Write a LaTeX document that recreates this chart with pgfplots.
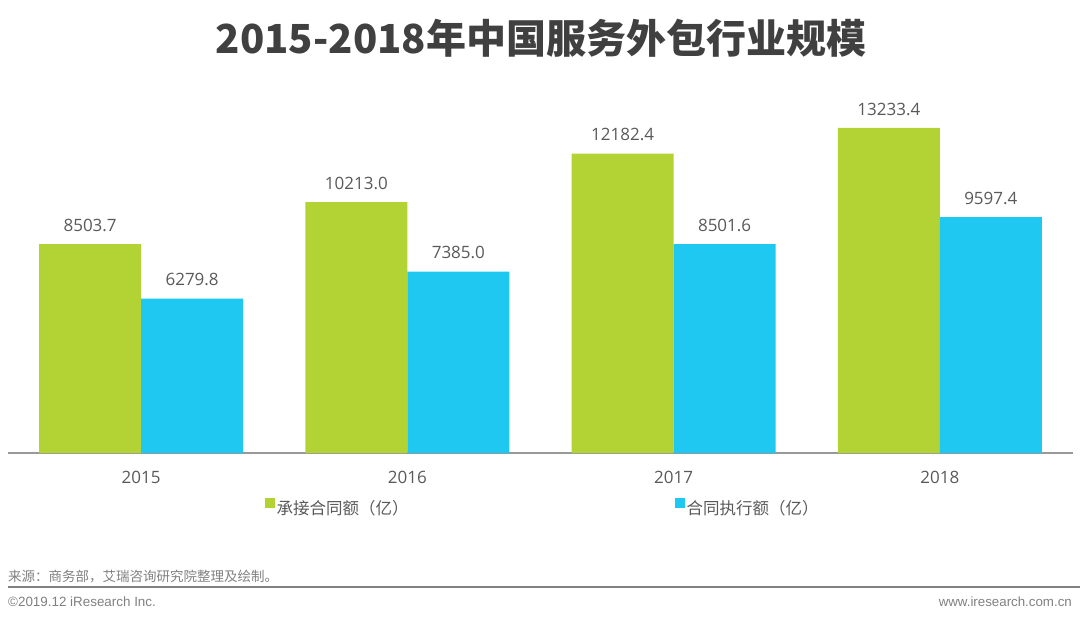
\documentclass[border=0pt]{standalone}
\usepackage{pgfplots}
\pgfplotsset{compat=1.18}
\usepackage{fontspec}
\setmainfont{Open Sans}
\newfontfamily\cjk{Noto Sans CJK SC}
\newfontfamily\arial{Liberation Sans}
\definecolor{barGreen}{HTML}{B3D334}
\definecolor{barCyan}{HTML}{1EC8F0}
\definecolor{txtGray}{HTML}{595959}
\definecolor{titleGray}{HTML}{404040}
\definecolor{footGray}{HTML}{808080}
\begin{document}
\begin{tikzpicture}
\path[use as bounding box] (0,0) rectangle (1080pt,622pt);
% title
\node[font=\cjk\bfseries\fontsize{40}{40}\selectfont, text=titleGray] at (541pt,584pt) {2015-2018年中国服务外包行业规模};
\begin{axis}[
    at={(8pt,169pt)}, anchor=south west,
    scale only axis, width=1065pt, height=353.8pt,
    xmin=-0.5, xmax=3.5, ymin=0, ymax=14400,
    ybar=0pt, bar width=102pt,
    axis x line*=bottom, axis y line=none,
    x axis line style={draw=footGray!80, line width=1.2pt},
    xtick={0,1,2,3}, xticklabels={2015,2016,2017,2018},
    major tick length=0pt,
    xticklabel style={font=\fontsize{17}{17}\selectfont, text=txtGray, yshift=-15pt},
    point meta=explicit symbolic,
    nodes near coords,
    every node near coord/.append style={font=\fontsize{17}{17}\selectfont, text=txtGray, yshift=9pt},
    legend columns=2,
    legend style={at={(0.2385,-0.1555)}, anchor=west, draw=none, fill=none,
        font=\cjk\fontsize{16.5}{16.5}\selectfont, text=txtGray,
        nodes={inner sep=1.5pt},
        /tikz/every even column/.append style={column sep=265pt}},
    legend image code/.code={\fill[#1] (0pt,0.5pt) rectangle (10pt,10.5pt);},
]
\addplot[fill=barGreen, draw=none] coordinates {
    (0,8503.7) [8503.7]
    (1,10213.0) [10213.0]
    (2,12182.4) [12182.4]
    (3,13233.4) [13233.4]
};
\addlegendentry{承接合同额（亿）}
\addplot[fill=barCyan, draw=none] coordinates {
    (0,6279.8) [6279.8]
    (1,7385.0) [7385.0]
    (2,8501.6) [8501.6]
    (3,9597.4) [9597.4]
};
\addlegendentry{合同执行额（亿）}
\end{axis}
% footer
\node[anchor=west, font=\cjk\fontsize{13.5}{13.5}\selectfont, text=footGray, inner sep=0pt] at (8pt,46pt) {来源：商务部，艾瑞咨询研究院整理及绘制。};
\draw[footGray, line width=1.5pt] (8pt,35pt) -- (1080pt,35pt);
\node[anchor=west, font=\arial\fontsize{13.4}{13.4}\selectfont, text=footGray, inner sep=0pt] at (8pt,20pt) {©2019.12 iResearch Inc.};
\node[anchor=east, font=\arial\fontsize{13.3}{13.3}\selectfont, text=footGray, inner sep=0pt] at (1072pt,20pt) {www.iresearch.com.cn};
\end{tikzpicture}
\end{document}
